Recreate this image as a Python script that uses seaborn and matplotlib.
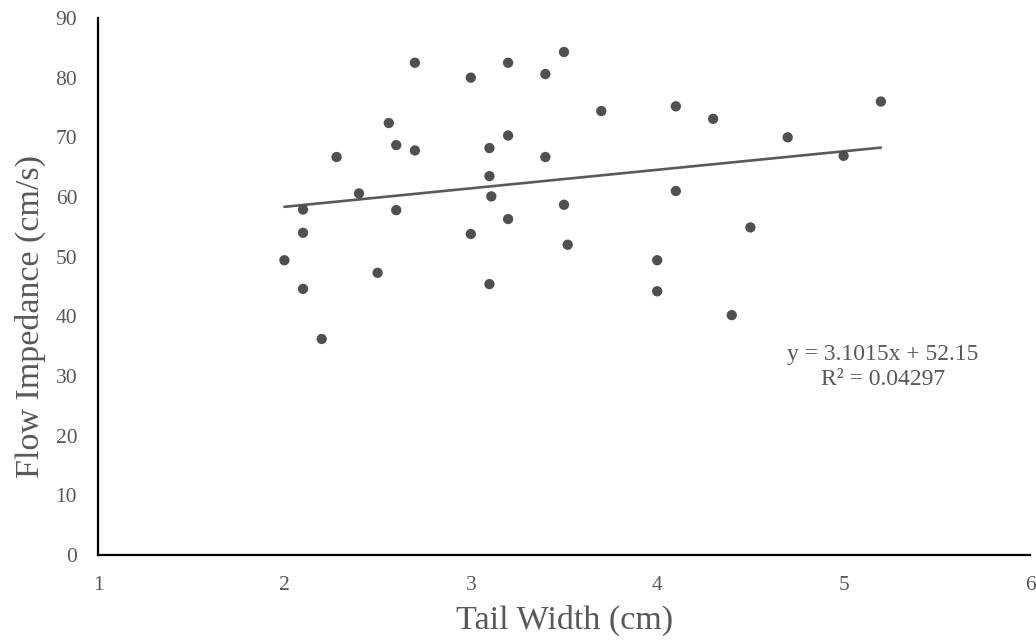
import matplotlib
matplotlib.use("Agg")
import matplotlib.pyplot as plt
import seaborn as sns
import numpy as np
import pandas as pd

tail_width = [2.0, 2.1, 2.1, 2.1, 2.2, 2.28, 2.4, 2.5, 2.56, 2.6, 2.6, 2.7, 2.7,
              3.0, 3.0, 3.1, 3.1, 3.11, 3.1, 3.2, 3.2, 3.2, 3.4, 3.4, 3.5, 3.5,
              3.52, 3.7, 4.0, 4.0, 4.1, 4.1, 4.3, 4.4, 4.5, 4.7, 5.0, 5.2]
flow_impedance = [49.4, 57.9, 54.0, 44.6, 36.2, 66.7, 60.6, 47.3, 72.4, 68.7, 57.8, 82.5, 67.8,
                  80.0, 53.8, 68.2, 63.5, 60.1, 45.4, 82.5, 70.3, 56.3, 80.6, 66.7, 84.3, 58.7,
                  52.0, 74.4, 49.4, 44.2, 75.2, 61.0, 73.1, 40.2, 54.9, 70.0, 66.9, 76.0]
slope = 3.1015
intercept = 52.15
r_squared = "0.04297"
x_ticks = [1, 2, 3, 4, 5, 6]
y_ticks = [0, 10, 20, 30, 40, 50, 60, 70, 80, 90]

sns.set_theme(style="white")
plt.rcParams['font.family'] = ['Liberation Serif', 'DejaVu Serif']

df = pd.DataFrame({"x": tail_width, "y": flow_impedance})
xs = [min(tail_width), max(tail_width)]
trend = pd.DataFrame({"x": xs, "y": [slope * v + intercept for v in xs]})

W, H = 1036, 641
L, R, T, B = 98, 1030, 18, 555
fig = plt.figure(figsize=(W / 100, H / 100), dpi=100)
ax = fig.add_axes([L / W, 1 - B / H, (R - L) / W, (B - T) / H])

text_color = "#595959"
sns.lineplot(data=trend, x="x", y="y", ax=ax, color="#595959", linewidth=1.9)
sns.scatterplot(data=df, x="x", y="y", ax=ax, color="#505050", s=55, edgecolor="none", zorder=3)

ax.set_xlim(1, 6)
ax.set_ylim(0, 90)
ax.set_xticks(x_ticks)
ax.set_yticks(y_ticks)
ax.set_xticklabels([str(t) for t in x_ticks])
ax.set_yticklabels([str(t) for t in y_ticks])
for s in ["top", "right"]:
    ax.spines[s].set_visible(False)
for s in ["left", "bottom"]:
    ax.spines[s].set_color("black")
    ax.spines[s].set_linewidth(1.6)
ax.tick_params(axis="x", direction="in", length=5, width=1.6, color="black",
               labelsize=15.5, labelcolor=text_color, pad=15)
ax.tick_params(axis="y", direction="out", length=5, width=1.6, color="black",
               labelsize=15.5, labelcolor=text_color, pad=10)
ax.set_xlabel("Tail Width (cm)", fontsize=24.5, color=text_color)
ax.set_ylabel("Flow Impedance (cm/s)", fontsize=24.5, color=text_color)
ax.yaxis.label.set_va("center")
ax.xaxis.label.set_va("center")
ax.yaxis.set_label_coords((30 - L) / (R - L), (B - 316) / (B - T))
ax.xaxis.set_label_coords((565 - L) / (R - L), (B - 620) / (B - T))
ax.grid(False)

ax.text(5.21, 31.5, f"y = {slope}x + {intercept}\nR² = {r_squared}",
        ha="center", va="center", fontsize=17, color=text_color, linespacing=1.2)

fig.savefig("out.png", dpi=100, facecolor="white")
